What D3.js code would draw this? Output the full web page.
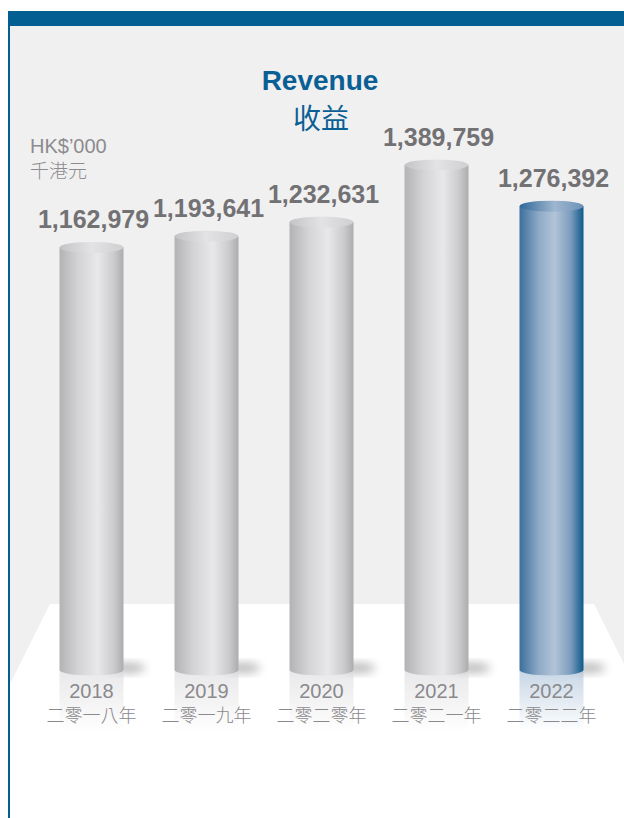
<!DOCTYPE html>
<meta charset="utf-8">
<script src="https://d3js.org/d3.v7.min.js"></script>
<style>
  body { margin: 0; background: #fff; }
  svg { display: block; }
  text { font-family: "Liberation Sans", Arial, Helvetica, sans-serif; }
  .cjk { font-family: "Noto Sans CJK TC", "Noto Sans CJK SC", sans-serif; }
</style>
<div id="my_dataviz"></div>
<script>

// data
var years = ["2018", "2019", "2020", "2021", "2022"];
var yearsZh = ["二零一八年", "二零一九年", "二零二零年", "二零二一年", "二零二二年"];
var revenue = [1162979, 1193641, 1232631, 1389759, 1276392];

var width = 624, height = 818;
var baseY = 670, cylW = 64, ry = 5.5;

var svg = d3.select("#my_dataviz")
  .append("svg")
    .attr("width", width)
    .attr("height", height);

var defs = svg.append("defs");

// gradients for cylinders
function hGrad(id, stops) {
  var g = defs.append("linearGradient").attr("id", id)
    .attr("x1", "0%").attr("x2", "100%").attr("y1", "0%").attr("y2", "0%");
  stops.forEach(function(s) {
    g.append("stop").attr("offset", s[0]).attr("stop-color", s[1]);
  });
}
hGrad("greyBody", [["0%", "#b3b2b5"], ["30%", "#d4d3d6"], ["60%", "#e8e7ea"], ["85%", "#cbcacd"], ["100%", "#acabae"]]);
hGrad("greyTop", [["0%", "#c4c3c6"], ["50%", "#e3e2e5"], ["100%", "#cfced1"]]);
hGrad("blueBody", [["0%", "#3b6f9c"], ["30%", "#8eaac6"], ["55%", "#b2c4d8"], ["80%", "#7c9cbd"], ["100%", "#0d5a8c"]]);
hGrad("blueTop", [["0%", "#2f6898"], ["55%", "#9fb6cf"], ["100%", "#6d91b6"]]);

function vFade(id, color, op) {
  var g = defs.append("linearGradient").attr("id", id)
    .attr("x1", "0%").attr("x2", "0%").attr("y1", "0%").attr("y2", "100%");
  g.append("stop").attr("offset", "0%").attr("stop-color", color).attr("stop-opacity", op);
  g.append("stop").attr("offset", "100%").attr("stop-color", color).attr("stop-opacity", 0);
}
vFade("greyRefl", "#d9d8db", 0.6);
vFade("blueRefl", "#a9c0d8", 0.65);

defs.append("filter").attr("id", "blur")
  .attr("x", "-50%").attr("y", "-50%").attr("width", "200%").attr("height", "200%")
  .append("feGaussianBlur").attr("stdDeviation", 5);

// background
svg.append("rect").attr("x", 8).attr("y", 11).attr("width", width - 8).attr("height", height - 11).attr("fill", "#f1f0f1");
svg.append("polygon")
  .attr("points", [[50, 604], [594, 604], [624, 664], [624, 818], [10, 818], [10, 684]].join(" "))
  .attr("fill", "#ffffff");
svg.append("rect").attr("x", 8).attr("y", 11).attr("width", width - 8).attr("height", 15).attr("fill", "#035f92");
svg.append("rect").attr("x", 8).attr("y", 11).attr("width", 2).attr("height", height - 11).attr("fill", "#035f92");

// scales
var x = d3.scalePoint()
  .domain(years)
  .range([34, 609])
  .padding(0.5);

var y = d3.scaleLinear()
  .domain([0, d3.max(revenue)])
  .range([baseY, 165]);

var data = years.map(function(d, i) { return {year: d, zh: yearsZh[i], value: revenue[i], hi: d === "2022"}; });

// titles
svg.append("text").attr("x", 320).attr("y", 90).attr("text-anchor", "middle")
  .attr("font-size", 28).attr("font-weight", "bold").attr("fill", "#0a5f94").text("Revenue");
svg.append("text").attr("class", "cjk").attr("x", 321).attr("y", 129).attr("text-anchor", "middle")
  .attr("font-size", 28).attr("fill", "#0a5f94").text("收益");
svg.append("text").attr("x", 30).attr("y", 153)
  .attr("font-size", 20).attr("fill", "#8c8b8e").text("HK$’000");
svg.append("text").attr("class", "cjk").attr("x", 30).attr("y", 178)
  .attr("font-size", 19).attr("font-weight", 300).attr("fill", "#8c8b8e").text("千港元");

var g = svg.selectAll(".cyl").data(data).enter().append("g").attr("class", "cyl");

// shadow at base
g.append("ellipse")
  .attr("cx", function(d) { return x(d.year) + cylW / 2 + 4; })
  .attr("cy", baseY - 2)
  .attr("rx", 18).attr("ry", 5)
  .attr("fill", "#000").attr("opacity", 0.28)
  .attr("filter", "url(#blur)");

// reflection
g.append("rect")
  .attr("x", function(d) { return x(d.year) - cylW / 2; })
  .attr("y", baseY)
  .attr("width", cylW).attr("height", 62)
  .attr("fill", function(d) { return d.hi ? "url(#blueRefl)" : "url(#greyRefl)"; });

// body
g.append("path")
  .attr("d", function(d) {
    var l = x(d.year) - cylW / 2, r = x(d.year) + cylW / 2, t = y(d.value);
    return "M" + l + "," + t + "L" + l + "," + baseY +
      "A" + (cylW / 2) + "," + ry + " 0 0,0 " + r + "," + baseY +
      "L" + r + "," + t + "Z";
  })
  .attr("fill", function(d) { return d.hi ? "url(#blueBody)" : "url(#greyBody)"; });

// top
g.append("ellipse")
  .attr("cx", function(d) { return x(d.year); })
  .attr("cy", function(d) { return y(d.value); })
  .attr("rx", cylW / 2).attr("ry", ry)
  .attr("fill", function(d) { return d.hi ? "url(#blueTop)" : "url(#greyTop)"; });

// value labels
g.append("text")
  .attr("x", function(d) { return x(d.year) + 2; })
  .attr("y", function(d) { return y(d.value) - 19; })
  .attr("text-anchor", "middle")
  .attr("font-size", 25).attr("font-weight", "bold").attr("fill", "#727174")
  .text(function(d) { return d3.format(",")(d.value); });

// year labels
g.append("text")
  .attr("x", function(d) { return x(d.year); })
  .attr("y", 698)
  .attr("text-anchor", "middle")
  .attr("font-size", 20).attr("fill", "#8a898c")
  .text(function(d) { return d.year; });
g.append("text").attr("class", "cjk")
  .attr("x", function(d) { return x(d.year); })
  .attr("y", 722)
  .attr("text-anchor", "middle")
  .attr("font-size", 18).attr("font-weight", 300).attr("fill", "#8a898c")
  .text(function(d) { return d.zh; });

</script>
